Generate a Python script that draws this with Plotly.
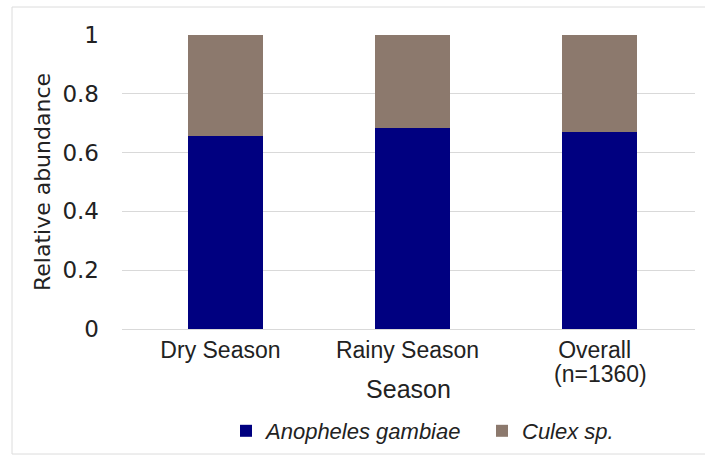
import plotly.graph_objects as go

categories = ["Dry Season", "Rainy Season", "Overall"]
tick_labels = ["Dry Season", "Rainy Season", "Overall"]
overall_note = "(n=1360)"
anopheles = [0.655, 0.685, 0.67]
culex = [0.345, 0.315, 0.33]
y_ticks = [0, 0.2, 0.4, 0.6, 0.8, 1]
y_tick_labels = ["0", "0.2", "0.4", "0.6", "0.8", "1"]

W, H = 705, 457
L, R, T, B = 122, 10, 35, 128
pw, ph = W - L - R, H - T - B

def px2paper_x(px):
    return (px - L) / pw

def px2paper_y(py):
    return (H - B - py) / ph

fig = go.Figure()
fig.add_trace(go.Bar(x=categories, y=anopheles, name="<i>Anopheles gambiae</i>",
                     marker=dict(color="#000080", line=dict(width=0))))
fig.add_trace(go.Bar(x=categories, y=culex, name="<i>Culex sp.</i>",
                     marker=dict(color="#8C796D", line=dict(width=0))))

fig.add_annotation(x=categories[2], y=px2paper_y(359), xref="x", yref="paper",
                   text=overall_note, showarrow=False, yanchor="top", xshift=1,
                   font=dict(family="Liberation Sans, Arial", size=23, color="#222"))

fig.add_shape(type="rect", xref="paper", yref="paper",
              x0=px2paper_x(12), x1=px2paper_x(710), y0=px2paper_y(454), y1=px2paper_y(7),
              line=dict(color="#dcdcdc", width=1), fillcolor="rgba(0,0,0,0)", layer="below")

fig.update_layout(
    width=W, height=H,
    margin=dict(l=L, r=R, t=T, b=B, autoexpand=False),
    barmode="stack", bargap=0.6,
    paper_bgcolor="white", plot_bgcolor="white",
    font=dict(family="Liberation Sans, Arial", color="#222"),
    showlegend=True,
    legend=dict(orientation="h", x=px2paper_x(226), xanchor="left",
                y=px2paper_y(410), yanchor="top", traceorder="normal",
                font=dict(family="Liberation Sans, Arial", size=22, color="#222"),
                itemwidth=30, entrywidth=211),
    xaxis=dict(
        categoryorder="array", categoryarray=categories,
        tickvals=categories, ticktext=tick_labels,
        range=[-0.553, 2.51],
        tickfont=dict(size=23, family="Liberation Sans, Arial", color="#222"),
        ticklabelshift=-5,
        showline=True, linecolor="#d9d9d9", linewidth=1,
        ticks="", showgrid=False,
        title=dict(text="Season", font=dict(size=25, family="Liberation Sans, Arial", color="#222"),
                   standoff=18),
    ),
    yaxis=dict(
        range=[0, 1], tickvals=y_ticks, ticktext=y_tick_labels,
        tickfont=dict(size=23, family="DejaVu Sans", color="#222"),
        ticklabelstandoff=22,
        showgrid=True, gridcolor="#d9d9d9", gridwidth=1,
        zeroline=False, ticks="", ticklen=0,
        title=dict(text="Relative abundance", font=dict(size=22, family="DejaVu Sans", color="#222"),
                   standoff=5),
    ),
)

fig.write_html("out.html", config={"displayModeBar": False},
               post_script="document.body.style.margin='0';")
